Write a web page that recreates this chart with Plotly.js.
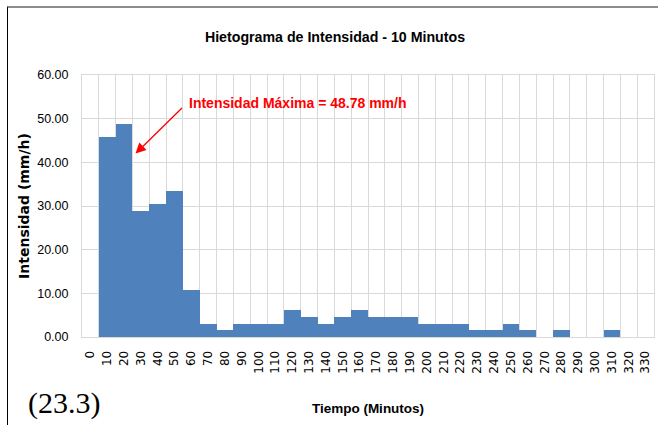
<!DOCTYPE html>
<html>
<head>
<meta charset="utf-8">
<script src="https://cdn.plot.ly/plotly-3.0.1.min.js"></script>
<style>
  html, body { margin: 0; padding: 0; background: #ffffff; }
  #wrap { position: relative; width: 658px; height: 425px; overflow: hidden; }
  #chart { position: absolute; left: 0; top: 0; width: 658px; height: 425px; }
  #frame { position: absolute; left: 7px; top: 6px; width: 660px; height: 430px;
           border-left: 1.5px solid #000; border-top: 2px solid #8c8c8c; pointer-events: none; }
</style>
</head>
<body>
<div id="wrap">
  <div id="chart"></div>
  <div id="frame"></div>
</div>
<script>
// Tiempo (minutos) - categories
const tiempo = ["0","10","20","30","40","50","60","70","80","90","100","110","120","130","140","150","160",
  "170","180","190","200","210","220","230","240","250","260","270","280","290","300","310","320","330"];
// Intensidad (mm/h)
const intensidad = [0, 45.72, 48.78, 28.96, 30.48, 33.53, 10.67, 3.05, 1.52, 3.05, 3.05, 3.05, 6.10, 4.57,
  3.05, 4.57, 6.10, 4.57, 4.57, 4.57, 3.05, 3.05, 3.05, 1.52, 1.52, 3.05, 1.52, 0, 1.52, 0, 0, 1.52, 0, 0];

const chartTitle = "Hietograma de Intensidad - 10 Minutos";
const xTitle = "Tiempo (Minutos)";
const yTitle = "Intensidad (mm/h)";
const maxLabel = "Intensidad Máxima = 48.78 mm/h";
const figLabel = "(23.3)";

const sans = '"Liberation Sans", Arial, sans-serif';
const maxIdx = intensidad.indexOf(Math.max(...intensidad));

const trace = {
  type: 'bar',
  x: tiempo,
  y: intensidad,
  marker: { color: '#4f81bd', line: { width: 0 } },
  hoverinfo: 'x+y'
};

const layout = {
  width: 658, height: 425,
  margin: { l: 82, r: 4, t: 75, b: 88 },
  paper_bgcolor: '#ffffff',
  plot_bgcolor: '#ffffff',
  showlegend: false,
  bargap: 0,
  title: {
    text: '<b>' + chartTitle + '</b>',
    font: { family: sans, size: 14.2, color: '#000' },
    x: 335 / 658, xref: 'container', xanchor: 'center',
    y: 1 - 37 / 425, yref: 'container', yanchor: 'middle'
  },
  xaxis: {
    type: 'category',
    tickson: 'boundaries',
    showgrid: true, gridcolor: '#d9d9d9', gridwidth: 1,
    showline: true, linecolor: '#d9d9d9', linewidth: 1, mirror: true,
    ticks: '', tickangle: -90,
    tickfont: { family: '"DejaVu Sans", Verdana, sans-serif', size: 12, color: '#000' },
    ticklabelstandoff: 8,
    title: { text: '<b>' + xTitle + '</b>', font: { family: sans, size: 13.5, color: '#000' }, standoff: 30 },
    automargin: false,
    fixedrange: true
  },
  yaxis: {
    range: [0, 60], dtick: 10, tickformat: '.2f',
    showgrid: true, gridcolor: '#d9d9d9', gridwidth: 1,
    zeroline: false,
    showline: true, linecolor: '#d9d9d9', linewidth: 1, mirror: true,
    ticks: '',
    tickfont: { family: sans, size: 12.5, color: '#000' },
    ticklabelstandoff: 10,
    title: { text: '<b>' + yTitle + '</b>', font: { family: '"DejaVu Sans", Verdana, sans-serif', size: 14, color: '#000' }, standoff: 4 },
    automargin: false,
    fixedrange: true
  },
  annotations: [
    {
      x: maxIdx + 0.68, y: 42.0, xref: 'x', yref: 'y',
      text: '', showarrow: true,
      ax: 48, ay: -47,
      arrowcolor: '#ff0000', arrowwidth: 1.3, arrowhead: 2, arrowsize: 1.6
    },
    {
      x: 187, y: 103, xref: 'paper', yref: 'paper',
      text: '<b>' + maxLabel + '</b>',
      showarrow: false,
      font: { family: sans, size: 14, color: '#ff0000' },
      xanchor: 'left', yanchor: 'middle'
    },
    {
      x: 26, y: 403, xref: 'paper', yref: 'paper',
      text: figLabel, showarrow: false,
      font: { family: '"Liberation Serif", "Times New Roman", serif', size: 30, color: '#000' },
      xanchor: 'left', yanchor: 'middle'
    }
  ]
};

// convert pixel positions of paper annotations to paper fractions
(function () {
  const pw = 658 - 82 - 4, ph = 425 - 75 - 88;
  [1, 2].forEach(i => {
    const a = layout.annotations[i];
    a.x = (a.x - 82) / pw;
    a.y = 1 - (a.y - 75) / ph;
  });
})();

Plotly.newPlot('chart', [trace], layout, { displayModeBar: false, staticPlot: true });
</script>
</body>
</html>
